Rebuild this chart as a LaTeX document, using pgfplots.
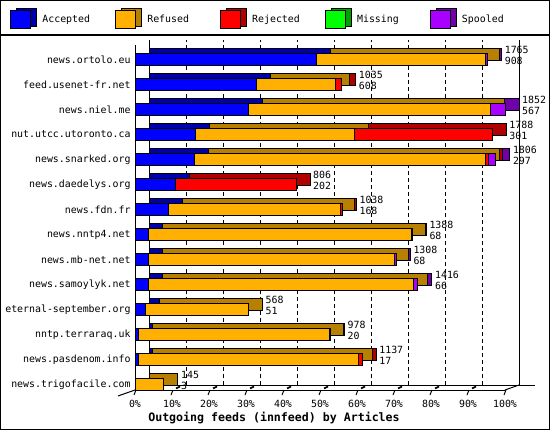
\documentclass[border=0pt]{standalone}
\usepackage{pgfplots}
\pgfplotsset{compat=1.18}
\usepackage{pgfplotstable}
\usepackage{fontspec}
\setmainfont{DejaVu Sans Mono}
\setmonofont{DejaVu Sans Mono}

\definecolor{acc}{RGB}{0,0,255}
\definecolor{accD}{RGB}{0,0,170}
\definecolor{ref}{RGB}{255,176,0}
\definecolor{refD}{RGB}{184,128,0}
\definecolor{rej}{RGB}{255,0,0}
\definecolor{rejD}{RGB}{176,0,0}
\definecolor{mis}{RGB}{0,255,0}
\definecolor{misD}{RGB}{0,160,0}
\definecolor{spo}{RGB}{170,0,255}
\definecolor{spoD}{RGB}{112,0,170}

\pgfplotstableread{
y acc ref rej mis spo tot
13 908 845 0 0 12 1765
12 608 397 30 0 0 1035
11 567 1213 0 0 72 1852
10 301 797 690 0 0 1788
9 297 1458 13 0 38 1806
8 202 0 604 0 0 806
7 168 862 8 0 0 1038
6 68 1317 3 0 0 1388
5 68 1233 0 0 7 1308
4 66 1330 0 0 20 1416
3 51 517 0 0 0 568
2 20 953 5 0 0 978
1 17 1100 20 0 0 1137
0 3 142 0 0 0 145
}\data

\newcommand{\tfont}{\fontsize{9.9bp}{12bp}\selectfont}

\pgfplotsset{
  base/.style={scale only axis, width=370bp, height=345bp,
    xmin=0, xmax=1852, ymin=-0.22, ymax=13.58, anchor=south west,
    enlargelimits=false, clip=false, axis line style={draw=none},
    major tick length=0pt},
  cube/.style 2 args={legend image code/.code={
    \draw[fill=#2, draw=black, line width=0.8bp] (6bp,-7bp) rectangle (26bp,11bp);
    \draw[fill=#1, draw=black, line width=0.8bp] (0bp,-9bp) rectangle (20bp,9bp);
    \path[draw=none, fill=none] (0bp,0bp) -- (32bp,0bp);}}
}

\begin{document}
\begin{tikzpicture}
\useasboundingbox (0,0) rectangle (550bp,430bp);
\fill[white] (0,0) rectangle (550bp,430bp);

% back (depth) copy
\begin{axis}[base, at={(149bp,45bp)}, xbar stacked, bar width=12bp,
  xtick={185.2,370.4,555.6,740.8,926,1111.2,1296.4,1481.6,1666.8},
  xticklabels={}, ytick=\empty, xmajorgrids,
  grid style={black, line width=0.9bp, dash pattern=on 4bp off 3bp}]
\addplot[fill=accD, draw=black, line width=1bp] table[x=acc, y=y]{\data};
\addplot[fill=refD, draw=black, line width=1bp] table[x=ref, y=y]{\data};
\addplot[fill=rejD, draw=black, line width=1bp] table[x=rej, y=y]{\data};
\addplot[fill=misD, draw=black, line width=1bp] table[x=mis, y=y]{\data};
\addplot[fill=spoD, draw=black, line width=1bp] table[x=spo, y=y]{\data};
\draw[line width=1bp] (rel axis cs:0,1) -- (rel axis cs:0,0) -- (rel axis cs:1.0432,0);
\draw[line width=1bp] (rel axis cs:1,0) -- (rel axis cs:1,1);
\end{axis}

% front faces
\begin{axis}[base, at={(135bp,40bp)}, xbar stacked, bar width=12bp,
  xtick={0,185.2,370.4,555.6,740.8,926,1111.2,1296.4,1481.6,1666.8,1852},
  xticklabels={0\%,10\%,20\%,30\%,40\%,50\%,60\%,70\%,80\%,90\%,100\%},
  ytick={0,...,13},
  yticklabels={news.trigofacile.com,news.pasdenom.info,nntp.terraraq.uk,eternal-september.org,news.samoylyk.net,news.mb-net.net,news.nntp4.net,news.fdn.fr,news.daedelys.org,news.snarked.org,nut.utcc.utoronto.ca,news.niel.me,feed.usenet-fr.net,news.ortolo.eu},
  ticklabel style={font=\tfont},
  xticklabel style={yshift=-7bp},
  yticklabel style={xshift=-1bp},
  legend columns=5,
  legend style={at={(axis description cs:-0.33784,1.10725)}, anchor=north west,
    draw=none, fill=none, inner sep=0pt, outer sep=0pt, column sep=0pt,
    nodes={inner sep=0pt, text width=72.5bp, align=left, font=\tfont}},
  legend cell align=left]
\addplot[fill=acc, draw=black, line width=1bp, cube={acc}{accD}] table[x=acc, y=y]{\data};
\addplot[fill=ref, draw=black, line width=1bp, cube={ref}{refD}] table[x=ref, y=y]{\data};
\addplot[fill=rej, draw=black, line width=1bp, cube={rej}{rejD}] table[x=rej, y=y]{\data};
\addplot[fill=mis, draw=black, line width=1bp, cube={mis}{misD}] table[x=mis, y=y]{\data};
\addplot[fill=spo, draw=black, line width=1bp, cube={spo}{spoD}] table[x=spo, y=y]{\data};
\legend{Accepted,Refused,Rejected,Missing,Spooled}
\draw[line width=1bp] (rel axis cs:0,1) -- (rel axis cs:0,0) -- (rel axis cs:1,0);
\draw[line width=1bp] (rel axis cs:1,0) -- ++(14bp,5bp);
\draw[line width=1bp] (rel axis cs:0,0) -- ++(-17bp,-6bp);
\end{axis}

% value labels
\begin{axis}[base, at={(149bp,45bp)}, hide axis]
\addplot[draw=none, mark=none, nodes near coords, point meta=explicit symbolic,
  every node near coord/.append style={anchor=west, inner sep=0pt, xshift=3bp, yshift=5bp, font=\tfont}]
  table[x=tot, y=y, meta=tot]{\data};
\addplot[draw=none, mark=none, nodes near coords, point meta=explicit symbolic,
  every node near coord/.append style={anchor=west, inner sep=0pt, xshift=3bp, yshift=-6bp, font=\tfont}]
  table[x=tot, y=y, meta=acc]{\data};
\end{axis}

% floor ticks
\foreach \k in {0,...,10} {
  \draw[line width=1bp] ({(134+37*\k)*1bp},35bp) -- ({(136+37*\k)*1bp},40bp);
}
\foreach \k in {1,...,9} {
  \draw[line width=1.6bp] ({(139+37*\k)*1bp},41.5bp) -- ({(143+37*\k)*1bp},43.5bp);
}

\node[font=\bfseries\fontsize{11.6bp}{14bp}\selectfont] at (274bp,12.5bp) {Outgoing feeds (innfeed) by Articles};

\draw[line width=1.2bp] (0.6bp,0.6bp) rectangle (549.4bp,429.4bp);
\draw[line width=1.2bp] (0,395bp) -- (550bp,395bp);
\end{tikzpicture}
\end{document}
